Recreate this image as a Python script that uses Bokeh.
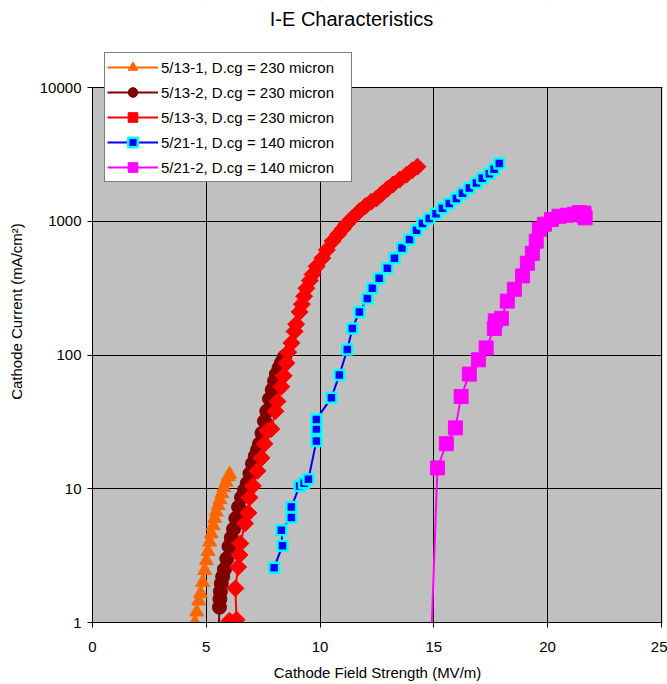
from bokeh.plotting import figure
from bokeh.models import FixedTicker, Range1d, BoxAnnotation, Label, Span
from bokeh.embed import file_html
from bokeh.resources import INLINE

FONT = "Liberation Sans"

# ---- data ----
x_ticks = [0, 5, 10, 15, 20, 25]
y_ticks = [1, 10, 100, 1000, 10000]
y_tick_labels = ["1", "10", "100", "1000", "10000"]

s1_label = "5/13-1, D.cg = 230 micron"
s1_x = [4.50, 4.58, 4.67, 4.75, 4.84, 4.93, 5.01, 5.08, 5.15, 5.22, 5.30, 5.37, 5.44,
        5.52, 5.60, 5.68, 5.77, 5.87, 5.96, 6.03]
s1_y = [1.0, 1.2, 1.45, 1.65, 2.0, 2.45, 2.9, 3.4, 4.0, 4.6, 5.3, 6.0, 6.7,
        7.5, 8.3, 9.2, 10.2, 11.2, 12.3, 12.8]

s2_label = "5/13-2, D.cg = 230 micron"
s2_x = [5.50, 5.58, 5.60, 5.62, 5.66, 5.72, 5.80, 5.90, 6.00, 6.10, 6.20, 6.30, 6.42,
        6.55, 6.68, 6.80, 6.92, 7.03, 7.15, 7.25, 7.34, 7.45, 7.56, 7.66, 7.78, 7.90,
        8.00, 8.08, 8.20, 8.30, 8.38, 8.44]
s2_y = [0.5, 1.3, 1.5, 1.7, 1.95, 2.2, 2.5, 3.0, 3.7, 4.3, 5.0, 6.0, 7.3,
        8.6, 9.8, 11.0, 13.0, 15.4, 17.5, 19.5, 21.7, 26.0, 32.0, 38.0, 47.0, 55.0,
        64.0, 72.0, 80.0, 87.0, 92.0, 97.0]

s3_label = "5/13-3, D.cg = 230 micron"
s3_x = [6.00, 6.02, 6.33, 6.28, 6.40, 6.46, 6.50, 6.70, 6.85, 6.90, 7.05, 7.25, 7.43,
        7.56, 7.69, 7.86, 8.04, 8.13, 8.30, 8.40, 8.52, 8.60, 8.74, 8.88, 8.95, 9.10,
        9.20, 9.30, 9.40, 9.55, 9.67, 9.85, 10.10, 10.30, 10.55, 10.80, 11.00, 11.16,
        11.40, 11.73, 12.00, 12.25, 12.48, 12.70, 12.95, 13.20, 13.50, 13.80, 14.05, 14.28]
s3_y = [0.5, 1.03, 1.05, 1.8, 2.6, 3.2, 3.9, 5.5, 6.6, 8.6, 10.5, 13.6, 17.0,
        21.7, 27.0, 28.0, 38.0, 45.0, 58.0, 70.0, 87.0, 105.0, 123.0, 150.0, 170.0, 210.0,
        240.0, 275.0, 315.0, 360.0, 400.0, 460.0, 530.0, 610.0, 710.0, 800.0, 880.0, 950.0,
        1050.0, 1190.0, 1300.0, 1400.0, 1480.0, 1600.0, 1740.0, 1880.0, 2050.0, 2230.0, 2400.0, 2560.0]

s4_label = "5/21-1, D.cg = 140 micron"
s4_x = [7.98, 8.35, 8.30, 8.74, 8.74, 9.10, 9.30, 9.49, 9.84, 9.84, 9.84, 10.50, 10.85,
        11.20, 11.42, 11.73, 12.08, 12.30, 12.60, 12.96, 13.27, 13.60, 13.93, 14.24, 14.50,
        14.80, 15.10, 15.38, 15.68, 15.99, 16.26, 16.56, 16.87, 17.13, 17.44, 17.65, 17.88]
s4_y = [2.57, 3.75, 4.9, 6.1, 7.3, 10.5, 11.0, 11.8, 22.8, 28.0, 33.0, 48.0, 71.0,
        110.0, 158.0, 210.0, 265.0, 315.0, 375.0, 445.0, 530.0, 630.0, 730.0, 855.0, 960.0,
        1050.0, 1140.0, 1250.0, 1360.0, 1480.0, 1620.0, 1770.0, 1930.0, 2100.0, 2270.0, 2450.0, 2700.0]

s5_label = "5/21-2, D.cg = 140 micron"
s5_x = [14.85, 15.16, 15.55, 15.95, 16.20, 16.56, 16.96, 17.30, 17.66, 17.70, 17.97, 18.23,
        18.54, 18.90, 19.11, 19.33, 19.50, 19.64, 19.86, 20.17, 20.50, 20.87, 21.18, 21.40,
        21.60, 21.65, 21.60]
s5_y = [0.5, 14.3, 21.7, 28.5, 49.0, 72.0, 92.0, 113.0, 158.0, 180.0, 188.0, 253.0,
        310.0, 390.0, 485.0, 575.0, 710.0, 870.0, 950.0, 1030.0, 1090.0, 1110.0, 1130.0, 1160.0,
        1150.0, 1060.0, 1100.0]

# ---- layout constants ----
W, H = 667, 684
MB_LEFT, MB_RIGHT, MB_BOTTOM = 92, 5, 62
TOP_PAD = 87                    # px between figure top and the 10000 line
frame_h = H - MB_BOTTOM
decade_px = (frame_h - TOP_PAD) / 4.0
y_top = 10 ** (4 + TOP_PAD / decade_px)

p = figure(width=W, height=H, x_range=Range1d(0, 25.05), y_range=Range1d(1, y_top),
           y_axis_type="log", output_backend="svg", toolbar_location=None,
           min_border_left=MB_LEFT, min_border_right=MB_RIGHT, min_border_top=0,
           min_border_bottom=MB_BOTTOM,
           background_fill_color="white", border_fill_color="white")
p.outline_line_color = None

# gray plot area (below the grid)
plot_area = BoxAnnotation(bottom=0.1, top=10000, left=-5, right=30,
                          fill_color="#C0C0C0", fill_alpha=1.0, line_color=None,
                          level="image")
p.add_layout(plot_area)

p.xaxis.ticker = FixedTicker(ticks=x_ticks)
p.yaxis.ticker = FixedTicker(ticks=y_ticks)
p.yaxis.bounds = (1, 10000)
p.yaxis.major_label_overrides = {t: l for t, l in zip(y_ticks, y_tick_labels)}
for ax in (p.xaxis, p.yaxis):
    ax.minor_tick_line_color = None
    ax.major_tick_out = 5
    ax.major_tick_in = 0
    ax.axis_line_color = "black"
    ax.major_tick_line_color = "black"
    ax.major_label_text_font = FONT
    ax.major_label_text_font_size = "15px"
    ax.major_label_text_color = "black"
    ax.axis_label_text_font = FONT
    ax.axis_label_text_font_size = "15px"
    ax.axis_label_text_font_style = "normal"
    ax.axis_label_text_color = "black"
p.xaxis.major_label_standoff = 14
p.yaxis.major_label_standoff = 6
p.xaxis.axis_label = "Cathode Field Strength (MV/m)"
p.yaxis.axis_label = "Cathode Current (mA/cm\u00b2)"
p.xaxis.axis_label_standoff = 9
p.yaxis.axis_label_standoff = 12

p.grid.grid_line_color = "black"
p.grid.grid_line_width = 1
p.xgrid.ticker = FixedTicker(ticks=x_ticks[1:])   # x=0 line is the y axis itself
p.ygrid.ticker = FixedTicker(ticks=y_ticks)

# white area above the plot area (the chart's top margin), drawn over the grid
top_cover = BoxAnnotation(bottom=10000, top=y_top * 10, left=-5, right=30,
                          fill_color="white", fill_alpha=1.0,
                          line_color=None, level="underlay")
p.add_layout(top_cover)
top_edge = Span(location=10000, dimension="width", line_color="black", line_width=1,
                level="underlay")
p.add_layout(top_edge)

# series
p.line(s1_x, s1_y, line_color="#FF6600", line_width=2, legend_label=s1_label)
p.scatter(s1_x, s1_y, marker="triangle", size=14, fill_color="#FF6600", line_color="#FF6600",
          legend_label=s1_label)

p.line(s2_x, s2_y, line_color="#800000", line_width=2, legend_label=s2_label)
p.scatter(s2_x, s2_y, marker="circle", size=14, fill_color="#800000", line_color="#800000",
          legend_label=s2_label)

p.line(s3_x, s3_y, line_color="#FF0000", line_width=2, legend_label=s3_label)
p.scatter(s3_x, s3_y, marker="square", angle=0.785398, size=12, fill_color="#FF0000",
          line_color="#FF0000", legend_label=s3_label)

p.line(s4_x, s4_y, line_color="#0000FF", line_width=2, legend_label=s4_label)
p.scatter(s4_x, s4_y, marker="square", size=10, fill_color="#0000FF", line_color="#00FFFF",
          line_width=2.5, legend_label=s4_label)

p.line(s5_x, s5_y, line_color="#FF00FF", line_width=2, legend_label=s5_label)
p.scatter(s5_x, s5_y, marker="square", size=14, fill_color="#FF00FF", line_color="#FF00FF",
          legend_label=s5_label)

leg = p.legend[0]
leg.location = (12, 440)
leg.padding = 2
leg.spacing = 1
leg.margin = 0
leg.glyph_width = 51
leg.glyph_height = 24
leg.label_height = 24
leg.label_standoff = 3
leg.label_width = 188
leg.label_text_font = FONT
leg.label_text_font_size = "15px"
leg.label_text_color = "black"
leg.border_line_color = "black"
leg.border_line_width = 1
leg.background_fill_color = "white"
leg.background_fill_alpha = 1.0

title = Label(x=259, y=604, x_units="screen", y_units="screen", text="I-E Characteristics",
              text_align="center", text_baseline="middle", text_font=FONT,
              text_font_size="20px", text_color="black")
p.add_layout(title)

open("out.html", "w").write(file_html(p, INLINE))
